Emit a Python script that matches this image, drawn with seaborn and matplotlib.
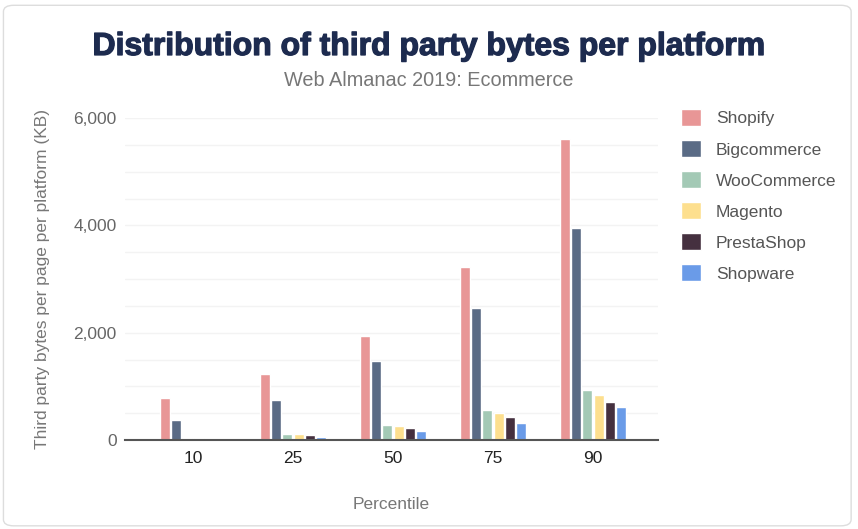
import pandas as pd
import seaborn as sns
import matplotlib.pyplot as plt
import matplotlib.patheffects as pe
from matplotlib.patches import FancyBboxPatch

# --- dados ---
percentiles = ["10", "25", "50", "75", "90"]
platforms = ["Shopify", "Bigcommerce", "WooCommerce", "Magento", "PrestaShop", "Shopware"]
shopify = [780, 1230, 1945, 3220, 5610]
bigcommerce = [370, 745, 1465, 2455, 3945]
woocommerce = [40, 110, 275, 565, 930]
magento = [35, 110, 270, 510, 830]
prestashop = [5, 90, 220, 435, 700]
shopware = [3, 60, 168, 325, 620]
colors = ["#E89696", "#5A6B85", "#A3C9B5", "#FDDF8E", "#45303F", "#6A9BE8"]

series = [shopify, bigcommerce, woocommerce, magento, prestashop, shopware]
rows = []
for name, vals in zip(platforms, series):
    for p, v in zip(percentiles, vals):
        rows.append({"Percentile": p, "Platform": name, "KB": v})
df = pd.DataFrame(rows)

sns.set_theme(style="white")
plt.rcParams["font.family"] = ["Liberation Sans", "DejaVu Sans"]

fig = plt.figure(figsize=(8.58, 5.29), dpi=100)
ax = fig.add_axes([125 / 858, 1 - 440 / 529, (658 - 125) / 858, (440 - 118) / 529])

sns.barplot(data=df, x="Percentile", y="KB", hue="Platform", order=percentiles,
            hue_order=platforms, palette=colors, width=0.68, gap=0.1,
            saturation=1, ax=ax, legend=True)

ax.set_ylim(0, 6000)
ax.set_xlim(-0.68, 4.65)
ax.set_yticks(range(0, 6001, 500))
ax.set_yticklabels([f"{v:,}" if v % 2000 == 0 else "" for v in range(0, 6001, 500)])
ax.grid(axis="y", color="#F3F3F3", linewidth=1)
ax.set_axisbelow(True)
for s in ["top", "right", "left"]:
    ax.spines[s].set_visible(False)
ax.spines["bottom"].set_color("#555555")
ax.spines["bottom"].set_linewidth(1.5)
ax.tick_params(axis="y", length=0, labelsize=12.5, labelcolor="#666666", pad=6)
ax.tick_params(axis="x", length=0, labelsize=12.5, labelcolor="#222222", pad=8)
ax.set_xlabel("Percentile", fontsize=12.5, color="#777777", labelpad=22)
ax.set_ylabel("Third party bytes per page per platform (KB)", fontsize=12.5,
              color="#777777", labelpad=17)

leg = ax.legend(loc="upper left", bbox_to_anchor=(681 / 858, 1 - 109 / 529),
                bbox_transform=fig.transFigure, frameon=False,
                fontsize=12.5, handlelength=1.15, handleheight=1.15,
                labelspacing=0.78, handletextpad=0.85, borderaxespad=0, borderpad=0)
for t in leg.get_texts():
    t.set_color("#555555")

fig.text(0.5, 1 - 47 / 529, "Distribution of third party bytes per platform",
         ha="center", va="center", fontsize=23, fontweight="bold", color="#1D2B4F",
         path_effects=[pe.withStroke(linewidth=0.9, foreground="#1D2B4F")])
fig.text(0.5, 1 - 81 / 529, "Web Almanac 2019: Ecommerce", ha="center", va="center",
         fontsize=14.3, color="#777777")

fig.patches.append(FancyBboxPatch((0.004, 0.006), 0.988, 0.984,
                                  boxstyle="round,pad=0,rounding_size=0.012",
                                  transform=fig.transFigure, fill=False,
                                  edgecolor="#DDDDDD", linewidth=1))

plt.savefig("out.png", dpi=100)
